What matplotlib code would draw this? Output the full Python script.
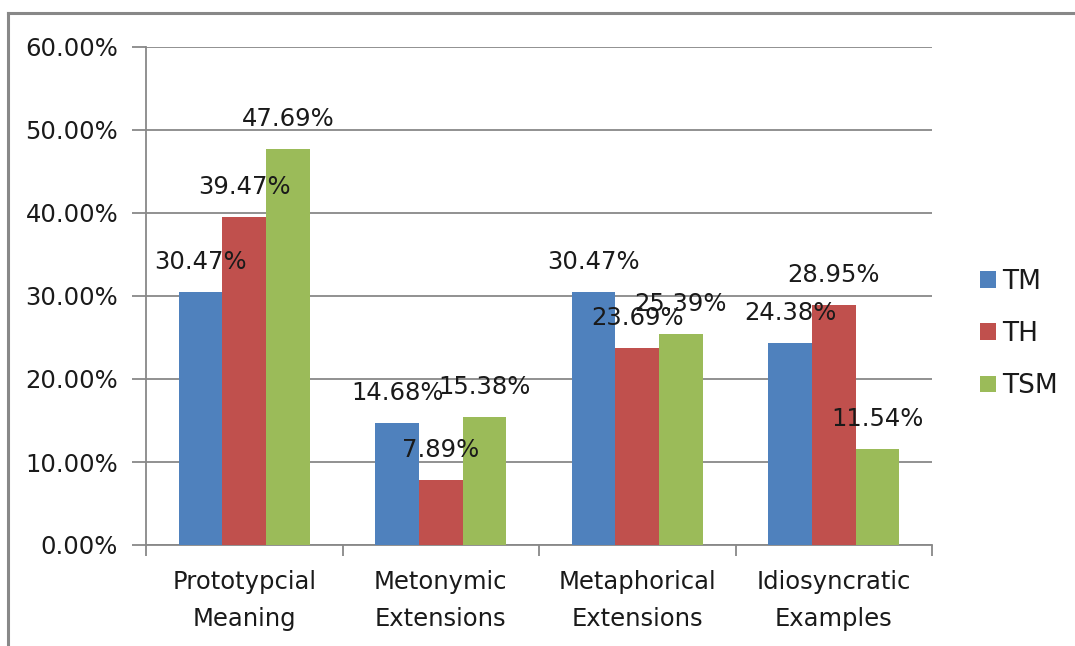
import matplotlib
matplotlib.use("Agg")
import matplotlib.pyplot as plt
from matplotlib.patches import Patch
from matplotlib.lines import Line2D
import numpy as np

categories = ["Prototypcial\nMeaning", "Metonymic\nExtensions",
              "Metaphorical\nExtensions", "Idiosyncratic\nExamples"]
series_names = ["TM", "TH", "TSM"]
tm_values = [30.47, 14.68, 30.47, 24.38]
th_values = [39.47, 7.89, 23.69, 28.95]
tsm_values = [47.69, 15.38, 25.39, 11.54]
y_ticks = [0, 10, 20, 30, 40, 50, 60]

colors = ["#4F81BD", "#C0504D", "#9BBB59"]
grid_color = "#888888"
text_color = "#1a1a1a"
fs = 17.5

plt.rcParams["font.family"] = ["DejaVu Sans"]

fig = plt.figure(figsize=(10.75, 6.46), dpi=100)
ax = fig.add_axes([146 / 1075, 1 - 545 / 646, (932 - 146) / 1075, (545 - 47) / 646])

x = np.arange(len(categories))
bar_w = 1 / 4.5
for i, (vals, name) in enumerate(zip([tm_values, th_values, tsm_values], series_names)):
    pos = x + (i - 1) * bar_w
    ax.bar(pos, vals, width=bar_w, color=colors[i], label=name, zorder=3)
    for px, v in zip(pos, vals):
        ax.annotate(f"{v:.2f}%", (px, v), xytext=(0, 30), textcoords="offset pixels",
                    ha="center", va="center", fontsize=fs, color=text_color, zorder=5)

ax.set_xlim(-0.5, len(categories) - 0.5)
ax.set_ylim(0, 60)
ax.set_yticks(y_ticks)
ax.set_yticklabels([f"{v:.2f}%" for v in y_ticks], color=text_color)
ax.yaxis.grid(True, color=grid_color, linewidth=1.3, zorder=0)
ax.set_axisbelow(True)

# Category labels centered between boundary ticks
ax.set_xticks(x)
ax.set_xticklabels(categories, fontsize=fs, linespacing=1.7, color=text_color)
ax.tick_params(axis="x", length=0, pad=18)
ax.set_xticks(np.arange(len(categories) + 1) - 0.5, minor=True)
ax.tick_params(axis="x", which="minor", length=8, width=1.3, color=grid_color)
ax.tick_params(axis="y", length=10, width=1.3, color=grid_color, pad=10, labelsize=fs)

for side in ["top", "right"]:
    ax.spines[side].set_visible(False)
for side in ["left", "bottom"]:
    ax.spines[side].set_color(grid_color)
    ax.spines[side].set_linewidth(1.3)

handles = [Patch(facecolor=c, edgecolor="none") for c in colors]
leg = fig.legend(handles, series_names, loc="center left",
                 bbox_to_anchor=(956 / 1075, 1 - 334 / 646), frameon=False,
                 fontsize=19, handlelength=0.6, handleheight=0.6, handletextpad=0.25,
                 labelspacing=1.0)
for t in leg.get_texts():
    t.set_color(text_color)

# Outer chart frame
fig.add_artist(Line2D([8 / 1075, 1.0], [1 - 13 / 646, 1 - 13 / 646],
                      transform=fig.transFigure, color="#888888", linewidth=2.2))
fig.add_artist(Line2D([8 / 1075, 8 / 1075], [0.0, 1 - 13 / 646],
                      transform=fig.transFigure, color="#888888", linewidth=2.2))

fig.savefig("out.png", dpi=100, facecolor="white")
